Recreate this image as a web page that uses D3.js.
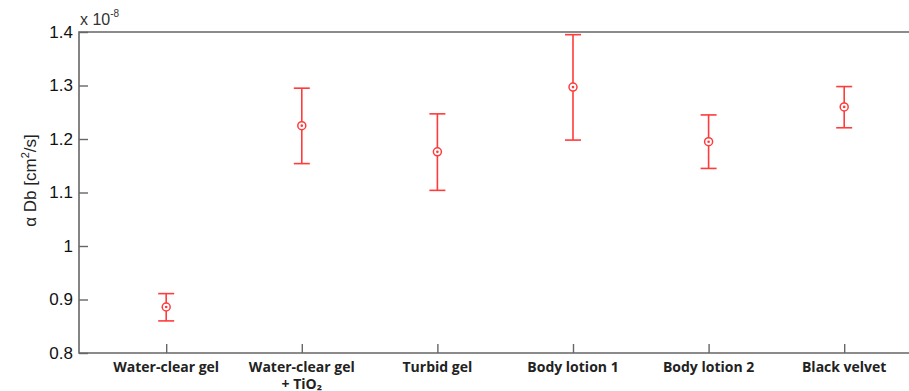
<!DOCTYPE html>
<html>
<head>
<meta charset="utf-8">
<script src="https://cdn.jsdelivr.net/npm/d3@7"></script>
<style>
  body { margin: 0; background: #fff; }
  svg { display: block; }
</style>
</head>
<body>
<div id="chart"></div>
<script>
// 樣本名稱與數值（單位 ×10^-8 cm²/s）
const categories = ["Water-clear gel", "Water-clear gel|+ TiO₂", "Turbid gel", "Body lotion 1", "Body lotion 2", "Black velvet"];
const means = [0.886, 1.225, 1.176, 1.297, 1.195, 1.260];
const upper = [0.911, 1.295, 1.247, 1.395, 1.245, 1.298];
const lower = [0.860, 1.154, 1.104, 1.198, 1.145, 1.221];
const yTicks = [0.8, 0.9, 1, 1.1, 1.2, 1.3, 1.4];

const width = 909, height = 391;
const plot = {left: 79, top: 32, right: 912, bottom: 353};
const red = "#ff3b3b";
const axisColor = "#666";

const svg = d3.select("#chart").append("svg")
    .attr("width", width)
    .attr("height", height);

// 比例尺
const x = d3.scaleLinear().domain([0.357, 6.5]).range([plot.left, plot.right]);
const y = d3.scaleLinear().domain([0.8, 1.4]).range([plot.bottom, plot.top]);

const data = categories.map((c, i) => ({
  name: c, pos: i + 1, mean: means[i], hi: upper[i], lo: lower[i]
}));

// 座標框
svg.append("path")
    .attr("d", `M${plot.right},${plot.top}H${plot.left}V${plot.bottom}H${plot.right}`)
    .attr("fill", "none")
    .attr("stroke", axisColor)
    .attr("stroke-width", 1.6);

// Y 軸
const yAxis = svg.append("g")
    .attr("transform", `translate(${plot.left},0)`)
    .call(d3.axisLeft(y).tickValues(yTicks).tickSize(-9).tickPadding(7)
      .tickFormat(d => d3.format("~g")(d)));
yAxis.select(".domain").remove();
yAxis.selectAll("line").attr("stroke", axisColor).attr("stroke-width", 1.4);
yAxis.selectAll("text")
    .attr("x", -6)
    .attr("font-family", "Liberation Sans, Arial, sans-serif")
    .attr("font-size", 17)
    .attr("fill", "#111");

// X 軸
const xAxis = svg.append("g")
    .attr("transform", `translate(0,${plot.bottom})`)
    .call(d3.axisBottom(x).tickValues(data.map(d => d.pos)).tickSize(-9).tickFormat(""));
xAxis.select(".domain").remove();
xAxis.selectAll("line").attr("stroke", axisColor).attr("stroke-width", 1.4);

// X 標籤（可換行）
const labels = svg.append("g")
    .selectAll("text")
    .data(data)
    .join("text")
    .attr("x", d => x(d.pos))
    .attr("y", plot.bottom + 19)
    .attr("text-anchor", "middle")
    .attr("font-family", "Open Sans, sans-serif")
    .attr("font-weight", "bold")
    .attr("font-size", 14)
    .attr("fill", "#222");
labels.each(function(d) {
  const lines = d.name.split("|");
  d3.select(this).selectAll("tspan")
      .data(lines)
      .join("tspan")
      .attr("x", x(d.pos))
      .attr("dy", (l, i) => i === 0 ? 0 : 17)
      .text(l => l);
});

// 誤差線
const g = svg.append("g");
g.selectAll(".err")
    .data(data)
    .join("line")
    .attr("x1", d => x(d.pos)).attr("x2", d => x(d.pos))
    .attr("y1", d => y(d.hi)).attr("y2", d => y(d.lo))
    .attr("stroke", red).attr("stroke-width", 1.6);
["hi", "lo"].forEach(k => {
  g.selectAll(".cap-" + k)
      .data(data)
      .join("line")
      .attr("x1", d => x(d.pos) - 8).attr("x2", d => x(d.pos) + 8)
      .attr("y1", d => y(d[k])).attr("y2", d => y(d[k]))
      .attr("stroke", red).attr("stroke-width", 1.6);
});

// 中心點標記
g.selectAll(".mk")
    .data(data)
    .join("circle")
    .attr("cx", d => x(d.pos)).attr("cy", d => y(d.mean))
    .attr("r", 4)
    .attr("fill", "#fff")
    .attr("stroke", red).attr("stroke-width", 1.5);
g.selectAll(".dot")
    .data(data)
    .join("circle")
    .attr("cx", d => x(d.pos)).attr("cy", d => y(d.mean))
    .attr("r", 1.3)
    .attr("fill", red);

// 指數標記
const expo = svg.append("text")
    .attr("x", plot.left + 1)
    .attr("y", plot.top - 7)
    .attr("font-family", "Liberation Sans, Arial, sans-serif")
    .attr("font-size", 16)
    .attr("fill", "#333");
expo.append("tspan").text("x 10");
expo.append("tspan").attr("dy", -8).attr("font-size", 10).text("-8");

// Y 軸標題
const yTitle = svg.append("text")
    .attr("transform", `translate(36,${(plot.top + plot.bottom) / 2 - 12}) rotate(-90)`)
    .attr("text-anchor", "middle")
    .attr("font-family", "Liberation Sans, Arial, sans-serif")
    .attr("font-size", 17)
    .attr("fill", "#222");
yTitle.append("tspan").text("α Db [cm");
yTitle.append("tspan").attr("dy", -7).attr("font-size", 11).text("2");
yTitle.append("tspan").attr("dy", 7).text("/s]");
</script>
</body>
</html>
